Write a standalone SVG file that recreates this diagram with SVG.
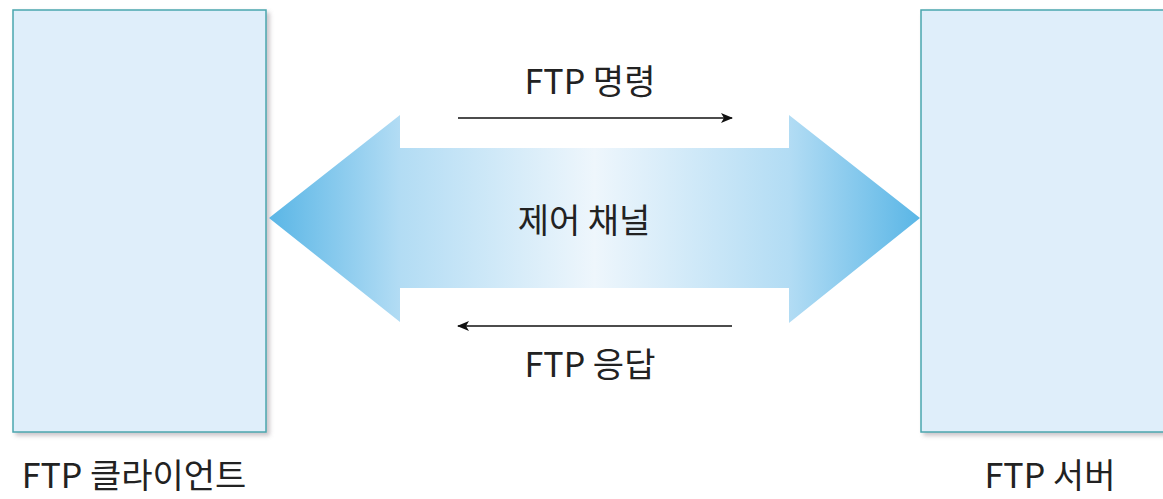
<svg xmlns="http://www.w3.org/2000/svg" width="1163" height="499" viewBox="0 0 1163 499">
<defs>
<linearGradient id="chan" x1="269" y1="0" x2="920" y2="0" gradientUnits="userSpaceOnUse">
<stop offset="0" stop-color="#5ab6e6"/>
<stop offset="0.2" stop-color="#b2dcf4"/>
<stop offset="0.5" stop-color="#eef6fc"/>
<stop offset="0.8" stop-color="#b2dcf4"/>
<stop offset="1" stop-color="#5ab6e6"/>
</linearGradient>
<filter id="sh" x="-5%" y="-5%" width="115%" height="115%">
<feDropShadow dx="3" dy="3" stdDeviation="2" flood-color="#8a7f86" flood-opacity="0.45"/>
</filter>
<marker id="ah" viewBox="0 0 12 10" refX="11" refY="5" markerWidth="12" markerHeight="10" markerUnits="userSpaceOnUse" orient="auto">
<path d="M0,0 L12,5 L0,10 L3,5 Z" fill="#111"/>
</marker>
</defs>
<style>
.box{fill:#dfeefa;stroke:#4aa6ae;stroke-width:1.5}
.t{font-family:"Noto Sans CJK KR","Noto Sans",sans-serif;font-size:34px;fill:#222;text-anchor:middle}
.ln{stroke:#111;stroke-width:1.5;fill:none}
</style>
<rect width="1163" height="499" fill="#ffffff"/>
<g id="client">
<rect class="box" x="13" y="10" width="253" height="422" filter="url(#sh)"/>
<text class="t" x="134" y="488">FTP 클라이언트</text>
</g>
<g id="server">
<rect class="box" x="921" y="10" width="260" height="422" filter="url(#sh)"/>
<text class="t" x="1050" y="488">FTP 서버</text>
</g>
<g id="control-channel">
<path d="M269,218 L400,115 L400,148 L789,148 L789,115 L920,218 L789,323 L789,288 L400,288 L400,322 Z" fill="url(#chan)"/>
<text class="t" x="584" y="233">제어 채널</text>
</g>
<g id="connectors">
<line class="ln" x1="458" y1="118" x2="732" y2="118" marker-end="url(#ah)"/>
<text class="t" x="590" y="94">FTP 명령</text>
<line class="ln" x1="732" y1="326" x2="458" y2="326" marker-end="url(#ah)"/>
<text class="t" x="590" y="377">FTP 응답</text>
</g>
</svg>
